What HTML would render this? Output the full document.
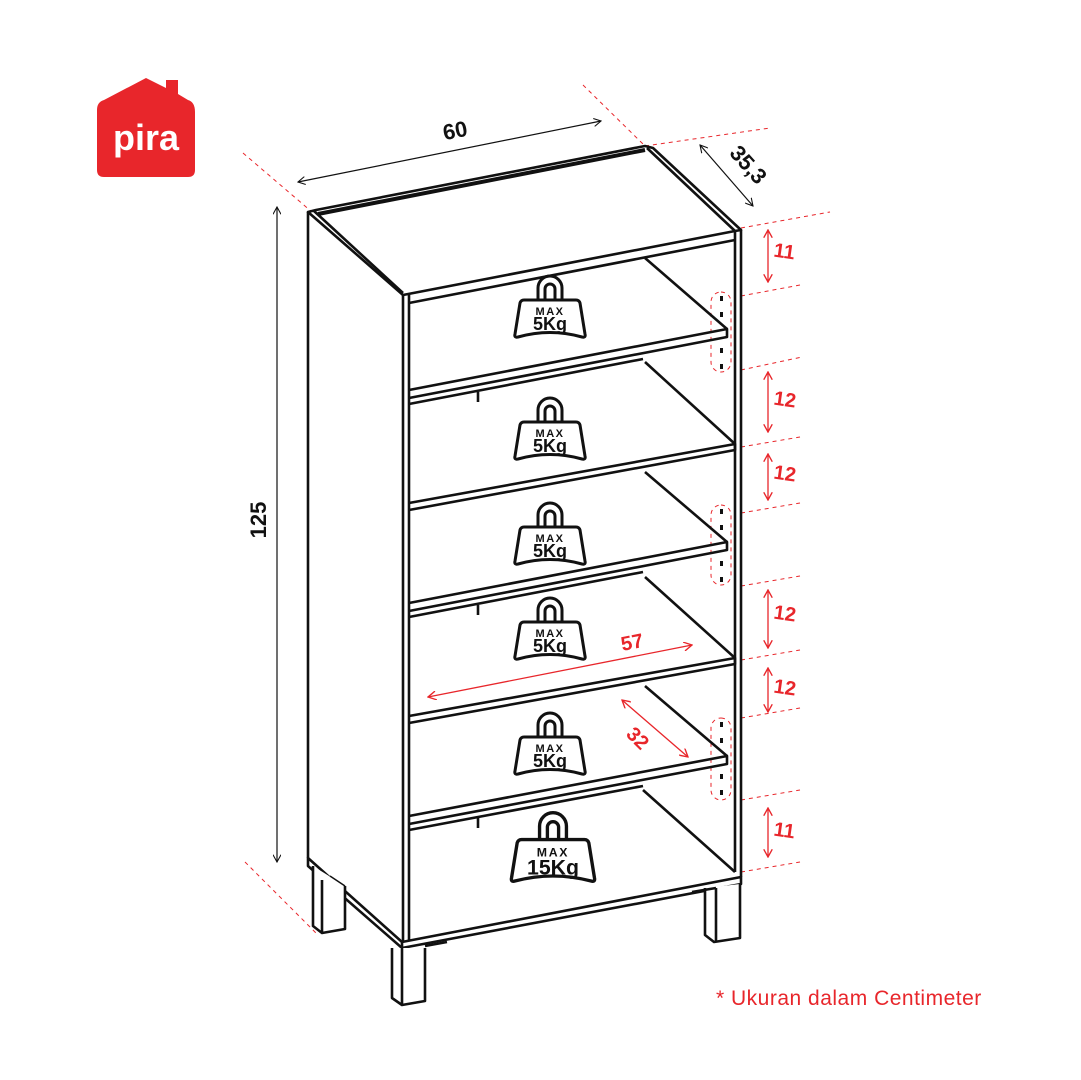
<!DOCTYPE html>
<html><head><meta charset="utf-8"><style>
html,body{margin:0;padding:0;background:#fff;}
svg{display:block;font-family:"Liberation Sans",sans-serif;}
</style></head><body>
<svg width="1081" height="1080" viewBox="0 0 1081 1080" xmlns="http://www.w3.org/2000/svg">
<defs>
<marker id="ab" viewBox="0 0 10 10" refX="9" refY="5" markerWidth="7" markerHeight="7" orient="auto-start-reverse"><path d="M0,0 L9,5 L0,10" fill="none" stroke="#111" stroke-width="1.3"/></marker>
<marker id="ar" viewBox="0 0 10 10" refX="9" refY="5" markerWidth="7" markerHeight="7" orient="auto-start-reverse"><path d="M0,0 L9,5 L0,10" fill="none" stroke="#e8262b" stroke-width="1.5"/></marker>
<g id="w">
<path d="M-12,-20 L-12,-32 A12,12 0 0 1 12,-32 L12,-20 M-5,-20 L-5,-31 A5,5 0 0 1 5,-31 L5,-20" fill="none" stroke="#111" stroke-width="3"/>
<path d="M-26,-20 L26,-20 Q29,-20 30,-17 L35,14 Q36,18 32,17 Q0,8 -32,17 Q-36,18 -35,14 L-30,-17 Q-29,-20 -26,-20 Z" fill="#fff" stroke="#111" stroke-width="3" stroke-linejoin="round"/>
<text x="0" y="-5" font-size="11" font-weight="bold" text-anchor="middle" letter-spacing="1.5" fill="#111">MAX</text>
<text x="0" y="10" font-size="18" font-weight="bold" text-anchor="middle" fill="#111">5Kg</text>
</g>
</defs>

<!-- logo -->
<path d="M104,100 L146,78 L166,88 L166,80 L178,80 L178,94 L188,100 Q195,102 195,112 L195,170 Q195,177 188,177 L104,177 Q97,177 97,170 L97,110 Q97,102 104,100 Z" fill="#e8262b"/>
<text x="146" y="150" font-size="36" font-weight="bold" text-anchor="middle" fill="#fff">pira</text>

<g stroke="#e8262b" stroke-width="1" stroke-dasharray="4,4" fill="none">
<line x1="243" y1="153" x2="312" y2="212"/>
<line x1="583" y1="85" x2="645" y2="146"/>
<line x1="645" y1="146" x2="770" y2="128"/>
<line x1="741" y1="228" x2="830" y2="212"/>
<line x1="741" y1="296" x2="800" y2="285"/>
<line x1="741" y1="370" x2="802" y2="357"/>
<line x1="741" y1="447" x2="800" y2="437"/>
<line x1="741" y1="513" x2="800" y2="503"/>
<line x1="741" y1="586" x2="800" y2="576"/>
<line x1="741" y1="660" x2="800" y2="650"/>
<line x1="741" y1="718" x2="800" y2="708"/>
<line x1="741" y1="800" x2="800" y2="790"/>
<line x1="741" y1="872" x2="800" y2="862"/>
<line x1="245" y1="862" x2="318" y2="935"/>
<rect x="711" y="292" width="20" height="80" rx="10"/>
<rect x="711" y="505" width="20" height="80" rx="10"/>
<rect x="711" y="718" width="20" height="82" rx="10"/>
</g>
<g fill="#111">
<rect x="720" y="296" width="3" height="5"/><rect x="720" y="312" width="3" height="5"/><rect x="720" y="348" width="3" height="5"/><rect x="720" y="364" width="3" height="5"/>
<rect x="720" y="509" width="3" height="5"/><rect x="720" y="525" width="3" height="5"/><rect x="720" y="561" width="3" height="5"/><rect x="720" y="577" width="3" height="5"/>
<rect x="720" y="722" width="3" height="5"/><rect x="720" y="738" width="3" height="5"/><rect x="720" y="774" width="3" height="5"/><rect x="720" y="790" width="3" height="5"/>
</g>

<g stroke="#111" stroke-width="2.6" fill="none" stroke-linejoin="round">
<path d="M308,212 L316,210 L645,146 L653,148 L741,230 L735,231 L403,295 L308,212 Z" fill="#fff"/>
<line x1="318" y1="214" x2="645" y2="150" stroke-width="4"/>
<line x1="647" y1="148" x2="735" y2="231"/>
<line x1="314" y1="211" x2="403" y2="293"/>
<line x1="308" y1="212" x2="308" y2="858"/>
<line x1="403" y1="295" x2="403" y2="942"/>
<line x1="409" y1="295" x2="409" y2="940"/>
<line x1="735" y1="231" x2="735" y2="872"/>
<line x1="741" y1="230" x2="741" y2="877"/>
<line x1="409" y1="303" x2="735" y2="240"/>
<path d="M409,390 L727,329 L727,337 L409,398"/>
<line x1="645" y1="258" x2="727" y2="329"/>
<line x1="409" y1="404" x2="643" y2="359"/>
<line x1="478" y1="392" x2="478" y2="402"/>
<path d="M409,503 L735,444 L735,450 L409,510"/>
<line x1="645" y1="362" x2="735" y2="444"/>
<path d="M409,603 L727,542 L727,550 L409,611"/>
<line x1="645" y1="472" x2="727" y2="542"/>
<line x1="409" y1="617" x2="643" y2="572"/>
<line x1="478" y1="605" x2="478" y2="615"/>
<path d="M409,716 L735,658 L735,664 L409,723"/>
<line x1="645" y1="577" x2="735" y2="658"/>
<path d="M409,816 L727,756 L727,764 L409,824"/>
<line x1="645" y1="686" x2="727" y2="756"/>
<line x1="409" y1="830" x2="643" y2="786"/>
<line x1="478" y1="818" x2="478" y2="828"/>
<line x1="643" y1="790" x2="735" y2="872"/>
<path d="M308,858 L402,942 L741,877 L741,884 L402,948 L308,866 Z" fill="#fff"/>
<line x1="402" y1="942" x2="402" y2="948"/>
<path d="M313,866 L313,926 L322,933 L345,929 L345,886" fill="#fff"/>
<line x1="322" y1="880" x2="322" y2="933"/>
<path d="M392,948 L392,998 L402,1005 L425,1001 L425,948" fill="#fff"/>
<line x1="402" y1="948" x2="402" y2="1005"/>
<path d="M705,888 L705,935 L714,942 L740,938 L740,884" fill="#fff"/>
<line x1="716" y1="888" x2="716" y2="942"/>
<line x1="692" y1="892" x2="716" y2="888"/>
<line x1="425" y1="946" x2="447" y2="942"/>
<line x1="330" y1="876" x2="345" y2="886" stroke-width="1.5"/>
</g>

<use href="#w" x="550" y="320"/>
<use href="#w" x="550" y="442"/>
<use href="#w" x="550" y="547"/>
<use href="#w" x="550" y="642"/>
<use href="#w" x="550" y="757"/>
<g transform="translate(553,862) scale(1.12)">
<path d="M-12,-20 L-12,-32 A12,12 0 0 1 12,-32 L12,-20 M-5,-20 L-5,-31 A5,5 0 0 1 5,-31 L5,-20" fill="none" stroke="#111" stroke-width="3"/>
<path d="M-28,-20 L28,-20 Q31,-20 32,-17 L37,14 Q38,18 34,17 Q0,8 -34,17 Q-38,18 -37,14 L-32,-17 Q-31,-20 -28,-20 Z" fill="#fff" stroke="#111" stroke-width="3" stroke-linejoin="round"/>
<text x="0" y="-5" font-size="11" font-weight="bold" text-anchor="middle" letter-spacing="1.5" fill="#111">MAX</text>
<text x="0" y="11" font-size="19" font-weight="bold" text-anchor="middle" fill="#111">15Kg</text>
</g>

<g stroke="#111" stroke-width="1.2" fill="none">
<line x1="298" y1="182" x2="601" y2="121" marker-start="url(#ab)" marker-end="url(#ab)"/>
<line x1="700" y1="145" x2="753" y2="206" marker-start="url(#ab)" marker-end="url(#ab)"/>
<line x1="277" y1="207" x2="277" y2="862" marker-start="url(#ab)" marker-end="url(#ab)"/>
</g>
<text x="455" y="138" font-size="22" font-weight="bold" fill="#111" text-anchor="middle" transform="rotate(-11 455 130)">60</text>
<text x="748" y="172" font-size="22" font-weight="bold" fill="#111" text-anchor="middle" transform="rotate(48 748 165)">35,3</text>
<text x="258" y="528" font-size="22" font-weight="bold" fill="#111" text-anchor="middle" transform="rotate(-90 258 520)">125</text>

<g stroke="#e8262b" stroke-width="1.3" fill="none">
<line x1="768" y1="230" x2="768" y2="282" marker-start="url(#ar)" marker-end="url(#ar)"/>
<line x1="768" y1="372" x2="768" y2="432" marker-start="url(#ar)" marker-end="url(#ar)"/>
<line x1="768" y1="454" x2="768" y2="500" marker-start="url(#ar)" marker-end="url(#ar)"/>
<line x1="768" y1="590" x2="768" y2="648" marker-start="url(#ar)" marker-end="url(#ar)"/>
<line x1="768" y1="668" x2="768" y2="712" marker-start="url(#ar)" marker-end="url(#ar)"/>
<line x1="768" y1="808" x2="768" y2="857" marker-start="url(#ar)" marker-end="url(#ar)"/>
<line x1="428" y1="697" x2="692" y2="645" marker-start="url(#ar)" marker-end="url(#ar)"/>
<line x1="622" y1="700" x2="688" y2="757" marker-start="url(#ar)" marker-end="url(#ar)"/>
</g>
<g fill="#e8262b" font-size="20" font-weight="bold">
<text x="774" y="258" transform="rotate(8 784 250)">11</text>
<text x="774" y="406" transform="rotate(8 784 398)">12</text>
<text x="774" y="480" transform="rotate(8 784 472)">12</text>
<text x="774" y="620" transform="rotate(8 784 612)">12</text>
<text x="774" y="694" transform="rotate(8 784 686)">12</text>
<text x="774" y="837" transform="rotate(8 784 829)">11</text>
<text x="632" y="649" text-anchor="middle" transform="rotate(-11 632 642)">57</text>
<text x="638" y="745" text-anchor="middle" transform="rotate(45 638 738)">32</text>
</g>
<text x="716" y="1005" font-size="21" letter-spacing="0.5" fill="#e8262b">* Ukuran dalam Centimeter</text>
</svg>
</body></html>
